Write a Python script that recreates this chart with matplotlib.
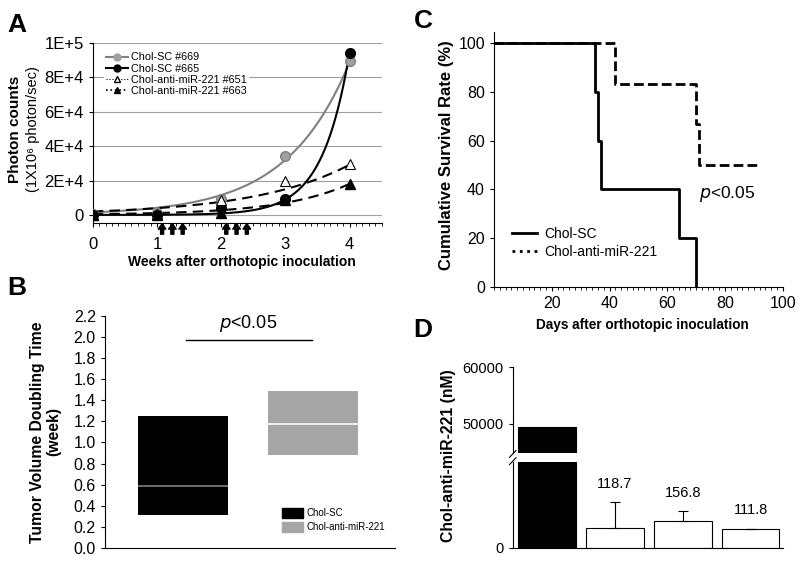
import matplotlib
matplotlib.use("Agg")
import matplotlib.pyplot as plt
import numpy as np
from matplotlib.ticker import MultipleLocator, FuncFormatter
from matplotlib.lines import Line2D
from matplotlib.patches import Patch

plt.rcParams['font.family'] = ['Liberation Sans', 'DejaVu Sans']

# ---- panel A: photon counts per mouse
weeks = [0, 1, 2, 3, 4]
sc_669 = [300, 1200, 9000, 34000, 89500]
sc_665 = [0, 200, 4000, 9000, 94000]
anti_651 = [0, 800, 8500, 20000, 29500]
anti_663 = [0, 200, 1000, 8500, 18000]
# exponential trend lines y = a*exp(b*x)
trend_a = [1500, 7.8, 2000, 420]
trend_b = [1.02, 2.35, 0.67, 0.94]
dose_weeks = [1.08, 1.24, 1.40, 2.08, 2.24, 2.40]

# ---- panel B: doubling time
groups = ['Chol-SC', 'Chol-anti-miR-221']
box_low = [0.31, 0.88]
box_high = [1.25, 1.49]
box_mid = [0.59, 1.17]

# ---- panel C: survival
sc_days = [0, 35, 36, 37, 64, 70]
sc_surv = [100, 80, 60, 40, 20, 0]
anti_days = [0, 42, 70, 71, 92]
anti_surv = [100, 83.3, 66.7, 50, 50]

# ---- panel D: concentration
d_values = [49500, 118.7, 156.8, 111.8]
d_err = [0, 150, 60, 3]
d_text = ['', '118.7', '156.8', '111.8']

fig = plt.figure(figsize=(8, 5.61), dpi=100)

# ================= A
ax1 = fig.add_axes([0.116, 0.6025, 0.361, 0.321])
ax1.set_xlim(0, 4.5)
ax1.set_ylim(-4700, 100000)
ax1.grid(axis='y', color='#a0a0a0', lw=0.8)
ax1.set_axisbelow(True)
ax1.spines['top'].set_visible(False)
ax1.spines['right'].set_visible(False)
ax1.set_yticks([0, 20000, 40000, 60000, 80000, 100000])
ax1.set_yticklabels(['0', '2E+4', '4E+4', '6E+4', '8E+4', '1E+5'])
ax1.set_xticks([0, 1, 2, 3, 4])
ax1.xaxis.set_minor_locator(MultipleLocator(0.1))
ax1.tick_params(labelsize=12, length=3, width=0.8)
ax1.tick_params(axis='x', which='minor', length=2, width=0.6)
ax1.tick_params(axis='x', pad=7)

xs = np.linspace(0, 4, 200)
styles = [dict(color='#808080', ls='-'), dict(color='black', ls='-'),
          dict(color='black', ls=(0, (5, 3))), dict(color='black', ls=(0, (5, 3)))]
for a, b, st in zip(trend_a, trend_b, styles):
    ax1.plot(xs, a * np.exp(b * xs), lw=1.5, **st)

ax1.plot(weeks, sc_669, 'o', color='#a0a0a0', mec='#808080', ms=7, zorder=3)
ax1.plot(weeks, sc_665, 'o', color='black', ms=7, zorder=3)
ax1.plot(weeks, anti_651, '^', color='white', mec='black', mew=0.8, ms=7, zorder=3)
ax1.plot(weeks, anti_663, '^', color='black', ms=7, zorder=3)

for w in dose_weeks:
    ax1.annotate('', xy=(w, -0.003), xytext=(w, -0.062), xycoords=('data', 'axes fraction'),
                 arrowprops=dict(arrowstyle='simple,head_length=0.4,head_width=0.55,tail_width=0.22',
                                 color='black', shrinkA=0, shrinkB=0), annotation_clip=False)

handles = [Line2D([], [], color='#808080', marker='o', mfc='#a0a0a0', mec='#a0a0a0', ms=5),
           Line2D([], [], color='black', marker='o', ms=5),
           Line2D([], [], color='black', ls=':', marker='^', mfc='white', mec='black', ms=5, lw=0.8),
           Line2D([], [], color='black', ls=':', marker='^', ms=5, lw=1.2)]
ax1.legend(handles, ['Chol-SC #669', 'Chol-SC #665', 'Chol-anti-miR-221 #651',
                     'Chol-anti-miR-221 #663'],
           loc='upper left', bbox_to_anchor=(0.02, 0.99), fontsize=7.8, frameon=True,
           edgecolor='none', facecolor='white', framealpha=1, handlelength=2,
           handletextpad=0.3, labelspacing=0.12, borderpad=0.2)

fig.text(15 / 800, 1 - 129 / 561, 'Photon counts', rotation=90, fontsize=11,
         fontweight='bold', ha='center', va='center')
fig.text(33 / 800, 1 - 129 / 561, '(1X10⁶ photon/sec)', rotation=90, fontsize=10.5,
         ha='center', va='center')
fig.text(242 / 800, 1 - 262 / 561, 'Weeks after orthotopic inoculation', fontsize=10,
         fontweight='bold', ha='center', va='center')

# ================= B
ax2 = fig.add_axes([0.131, 0.0232, 0.363, 0.4141])
xb = np.arange(len(groups))
low = np.array(box_low)
high = np.array(box_high)
ax2.bar(xb, high - low, bottom=low, width=0.69, color=['black', '#a6a6a6'])
ax2.hlines(box_mid, xb - 0.345, xb + 0.345, colors=['#808080', 'white'], lw=1.2)
ax2.set_xlim(-0.6, 1.63)
ax2.set_ylim(0, 2.2)
ax2.yaxis.set_major_locator(MultipleLocator(0.2))
ax2.yaxis.set_major_formatter(FuncFormatter(lambda v, p: '%.1f' % v))
ax2.set_xticks([])
ax2.spines['top'].set_visible(False)
ax2.spines['right'].set_visible(False)
ax2.tick_params(labelsize=11.5, length=3, width=0.8)
ax2.plot([0.02, 0.99], [1.97, 1.97], color='black', lw=1)
ax2.text(0.5, 2.13, '$p$<0.05', fontsize=13, ha='center', va='center')
ax2.legend([Patch(color='black'), Patch(color='#a6a6a6')], groups,
           loc='lower left', bbox_to_anchor=(0.58, 0.03), fontsize=7, frameon=False,
           handlelength=2.2, handleheight=1.1, handletextpad=0.3, labelspacing=0.4)
fig.text(46 / 800, 1 - 432 / 561, 'Tumor Volume Doubling Time\n(week)', rotation=90,
         fontsize=11.3, fontweight='bold', ha='center', va='center', linespacing=1.1)

# ================= C
ax3 = fig.add_axes([0.6175, 0.4884, 0.361, 0.4545])
ax3.step(sc_days, sc_surv, where='post', color='black', lw=2)
ax3.step(anti_days, anti_surv, where='post', color='black', lw=2, ls=(0, (3.5, 1.5)))
ax3.set_xlim(0, 100)
ax3.set_ylim(0, 104.5)
ax3.set_xticks([20, 40, 60, 80, 100])
ax3.xaxis.set_minor_locator(MultipleLocator(2))
ax3.set_yticks([0, 20, 40, 60, 80, 100])
ax3.spines['top'].set_visible(False)
ax3.spines['right'].set_visible(False)
ax3.tick_params(labelsize=11.5, length=3, width=0.8)
ax3.tick_params(axis='x', which='minor', length=2, width=0.6)
ax3.text(71, 38, '$p$<0.05', fontsize=12.5, ha='left', va='center')
ax3.legend([Line2D([], [], color='black', lw=2), Line2D([], [], color='black', lw=2, ls=':')],
           ['Chol-SC', 'Chol-anti-miR-221'], loc='lower left', bbox_to_anchor=(0.02, 0.06),
           fontsize=10, frameon=False, handlelength=1.8, handletextpad=0.5, labelspacing=0.3)
fig.text(446 / 800, 1 - 155 / 561, 'Cumulative Survival Rate (%)', rotation=90, fontsize=12,
         fontweight='bold', ha='center', va='center')
fig.text(642 / 800, 1 - 325 / 561, 'Days after orthotopic inoculation', fontsize=9.8,
         fontweight='bold', ha='center', va='center')

# ================= D (broken axis)
axl = fig.add_axes([0.641, 0.0232, 0.338, 0.1533])
axu = fig.add_axes([0.641, 0.1925, 0.338, 0.1533])
xd = np.arange(len(d_values))
colors_d = ['black', 'white', 'white', 'white']
for ax in (axl, axu):
    ax.bar(xd, d_values, width=0.85, color=colors_d, edgecolor='black', lw=0.8)
    ax.set_xlim(-0.5, 3.48)
    ax.spines['top'].set_visible(False)
    ax.spines['right'].set_visible(False)
    ax.tick_params(labelsize=10.5, length=3, width=0.8)
    ax.set_xticks([])
axl.errorbar(xd[1:], d_values[1:], yerr=[np.zeros(3), d_err[1:]], fmt='none',
             ecolor='black', elinewidth=0.8, capsize=3.5, capthick=0.8)
axl.set_ylim(0, 507)
axl.set_yticks([0])
axu.set_ylim(44900, 60000)
axu.set_yticks([50000, 60000])
axu.spines['bottom'].set_visible(False)
for i in range(1, 4):
    axl.annotate(d_text[i], (xd[i], d_values[i] + d_err[i]), xytext=(0, 13),
                 textcoords='offset points', ha='center', va='center', fontsize=10.5)
# break marks on the y axis
kw = dict(color='black', lw=0.8, clip_on=False)
axl.plot([-0.012, 0.012], [0.97, 1.05], transform=axl.transAxes, **kw)
axu.plot([-0.012, 0.012], [-0.05, 0.03], transform=axu.transAxes, **kw)
fig.text(448 / 800, 1 - 456 / 561, 'Chol-anti-miR-221 (nM)', rotation=90, fontsize=11.3,
         fontweight='bold', ha='center', va='center')

# panel letters
for lab, x, y in [('A', 7, 32), ('B', 7, 295), ('C', 414, 28), ('D', 413, 337)]:
    fig.text(x / 800, 1 - y / 561, lab, fontsize=19, fontweight='bold', ha='left',
             va='baseline')

fig.savefig('out.png', dpi=100)
